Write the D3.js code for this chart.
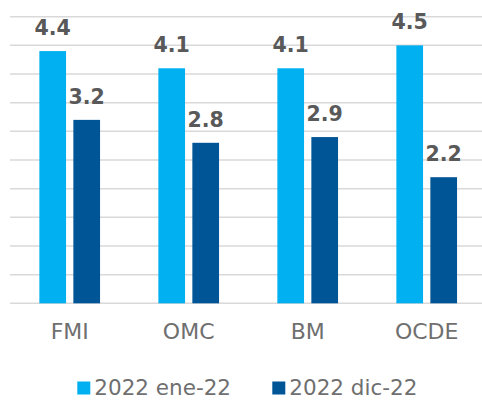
<!DOCTYPE html>
<html>
<head>
<meta charset="utf-8">
<script src="https://cdn.jsdelivr.net/npm/d3@7"></script>
<style>
  html, body { margin: 0; padding: 0; background: #fff; }
  svg { display: block; }
</style>
</head>
<body>
<div id="chart"></div>
<script>
const categories = ["FMI", "OMC", "BM", "OCDE"]
const seriesNames = ["2022 ene-22", "2022 dic-22"]
const ene22 = [4.4, 4.1, 4.1, 4.5]
const dic22 = [3.2, 2.8, 2.9, 2.2]
const yTicks = [0, 0.5, 1, 1.5, 2, 2.5, 3, 3.5, 4, 4.5, 5]
const colors = ["#00b0f0", "#005597"]

const width = 482, height = 400
const svg = d3.select("#chart").append("svg")
  .attr("width", width)
  .attr("height", height)

const rows = categories.map((c, i) => ({ cat: c, values: [ene22[i], dic22[i]] }))

const x0 = d3.scaleBand()
  .domain(categories)
  .range([10.2, 486.2])
  .paddingInner(0.49)
  .paddingOuter(0.245)

const x1 = d3.scaleBand()
  .domain([0, 1])
  .range([0, x0.bandwidth()])
  .paddingInner(0.215)

const y = d3.scaleLinear()
  .domain([0, 5])
  .range([303.3, 16.7])

// gridlines
svg.append("g").selectAll("line")
  .data(yTicks)
  .enter().append("line")
  .attr("x1", 10)
  .attr("x2", 482)
  .attr("y1", d => y(d))
  .attr("y2", d => y(d))
  .attr("stroke", "#d9d9d9")
  .attr("stroke-width", 1.5)

// bars
const groups = svg.append("g").selectAll("g")
  .data(rows)
  .enter().append("g")
  .attr("transform", d => "translate(" + x0(d.cat) + ",0)")

groups.selectAll("rect")
  .data(d => d.values.map((v, i) => ({ v: v, i: i })))
  .enter().append("rect")
  .attr("x", d => x1(d.i))
  .attr("width", x1.bandwidth())
  .attr("y", d => y(d.v))
  .attr("height", d => y(0) - y(d.v))
  .attr("fill", d => colors[d.i])

groups.selectAll("text")
  .data(d => d.values.map((v, i) => ({ v: v, i: i })))
  .enter().append("text")
  .attr("x", d => x1(d.i) + x1.bandwidth() / 2)
  .attr("y", d => y(d.v) - 16)
  .attr("text-anchor", "middle")
  .attr("font-family", "DejaVu Sans")
  .attr("font-weight", "bold")
  .attr("font-size", 20.5)
  .attr("fill", "#595959")
  .text(d => d3.format(".1f")(d.v))

// x axis labels
const xAxis = d3.axisBottom(x0).tickSize(0).tickPadding(0)
const xg = svg.append("g")
  .attr("transform", "translate(0,303.3)")
  .call(xAxis)
xg.select(".domain").remove()
xg.selectAll("text")
  .attr("dy", null)
  .attr("y", 35.7)
  .attr("font-family", "DejaVu Sans")
  .attr("font-size", 22)
  .attr("fill", "#6f6f6f")

// legend
const legendX = [77.3, 272.3]
const legend = svg.append("g").selectAll("g")
  .data(seriesNames)
  .enter().append("g")
  .attr("transform", (d, i) => "translate(" + legendX[i] + ",0)")
legend.append("rect")
  .attr("x", 0)
  .attr("y", 381.5)
  .attr("width", 13)
  .attr("height", 13)
  .attr("fill", (d, i) => colors[i])
legend.append("text")
  .attr("x", 17)
  .attr("y", 394.5)
  .attr("font-family", "DejaVu Sans")
  .attr("font-size", 21.5)
  .attr("fill", "#6f6f6f")
  .text(d => d)
</script>
</body>
</html>
